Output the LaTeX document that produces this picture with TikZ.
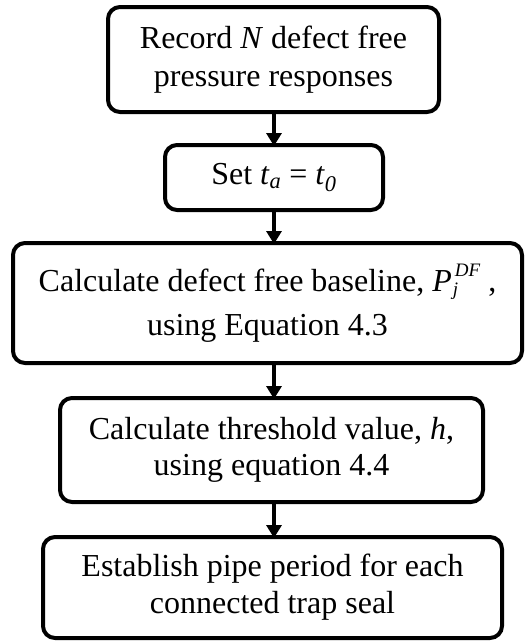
\documentclass[tikz,border=0pt]{standalone}
\usepackage{fontspec}
\setmainfont{Liberation Serif}
\usetikzlibrary{arrows.meta}
\newcommand{\smallscr}[1]{\fontsize{19}{19}\selectfont\textit{#1}}
\newcommand{\PjDF}{\textit{P}\kern1pt\rlap{\raisebox{-4pt}{\smallscr{j}}}\kern2pt\raisebox{15pt}{\smallscr{DF}}}
\begin{document}
\begin{tikzpicture}[x=1pt,y=-1pt,
  stepbox/.style={draw=black, line width=4pt, rounded corners=12pt, inner sep=0pt, outer sep=0pt,
    align=center, font=\fontsize{32}{38}\selectfont},
  arr/.style={line width=4pt, -{Triangle[width=15pt,length=13pt]}, shorten >=-1pt}]
\useasboundingbox (0,0) rectangle (527,641);
\node[stepbox, minimum width=331pt, minimum height=105pt] (b1) at (273.5,59.5)
  {Record \textit{N} defect free\\pressure responses};
\node[stepbox, minimum width=218pt, minimum height=65pt] (b2) at (274,177.5)
  {Set \textit{t}\textsubscript{\textit{a}} = \textit{t}\textsubscript{\textit{0}}};
\node[stepbox, minimum width=509pt, minimum height=120pt, font=\fontsize{32}{44}\selectfont] (b3) at (267.5,303)
  {Calculate defect free baseline, \PjDF\ ,\\using Equation 4.3};
\node[stepbox, minimum width=423pt, minimum height=104pt, font=\fontsize{32}{36}\selectfont] (b4) at (271.5,450)
  {Calculate threshold value, \textit{h},\\using equation 4.4};
\node[stepbox, minimum width=459pt, minimum height=101pt, font=\fontsize{32}{37}\selectfont] (b5) at (272.5,587.5)
  {Establish pipe period for each\\connected trap seal};
\draw[arr] (b1.south -| b2.north) -- (b2.north);
\draw[arr] (b2.south) -- (b3.north -| b2.south);
\draw[arr] (b3.south -| b2.south) -- (b4.north -| b2.south);
\draw[arr] (b4.south -| b2.south) -- (b5.north -| b2.south);
\end{tikzpicture}
\end{document}
